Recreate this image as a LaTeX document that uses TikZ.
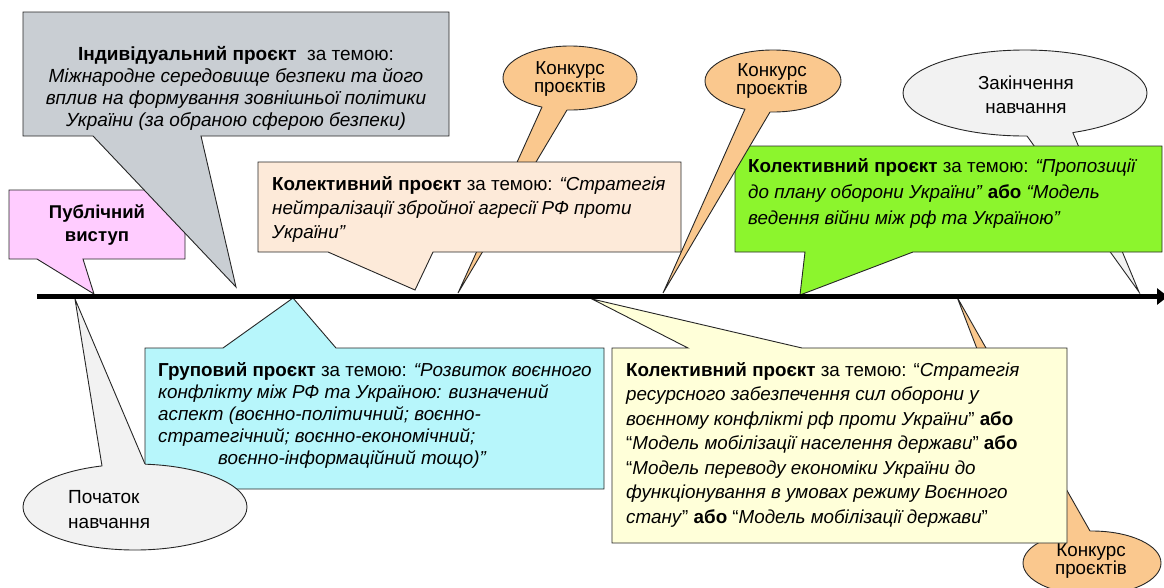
\documentclass[tikz,border=0pt]{standalone}
\usepackage{fontspec}
\setmainfont{Liberation Sans}
\usetikzlibrary{arrows.meta}
\definecolor{greyfill}{RGB}{201,206,211}
\definecolor{pinkfill}{RGB}{255,204,255}
\definecolor{peachfill}{RGB}{253,234,217}
\definecolor{orangefill}{RGB}{250,200,142}
\definecolor{lightfill}{RGB}{242,242,242}
\definecolor{greenfill}{RGB}{140,245,45}
\definecolor{cyanfill}{RGB}{183,246,251}
\definecolor{yellowfill}{RGB}{255,255,217}
\tikzset{%
  % Specifications for style of callouts and texts:
       callout/.style = {draw=black!85, line width=0.9pt, line join=miter},
       greybox/.style = {callout, fill=greyfill},
       pinkbox/.style = {callout, fill=pinkfill},
      peachbox/.style = {callout, fill=peachfill},
     orangebox/.style = {callout, fill=orangefill},
      lightbox/.style = {callout, fill=lightfill},
      greenbox/.style = {callout, fill=greenfill},
       cyanbox/.style = {callout, fill=cyanfill},
     yellowbox/.style = {callout, fill=yellowfill},
       textbox/.style = {inner sep=0pt, anchor=north west, align=left,
                         font=\fontsize{18.8}{24}\selectfont},
     centerbox/.style = {textbox, anchor=north, align=center},
      timeline/.style = {line width=5.5pt, -{Triangle[length=11pt,width=16pt]}},
}

\begin{document}
\begin{tikzpicture}[x=1pt, y=-1pt]
  \useasboundingbox (0,0) rectangle (1164,587);
  \clip (0,0) rectangle (1164,587);

  % Points of the time line
  \coordinate (tlStart) at (37,296.5);
  \coordinate (tlEnd)   at (1168,296.5);

  % Public speech
  \path[pinkbox] (9,190) -- (185,190) -- (185,259) -- (83,259) -- (94,294)
    -- (37,259) -- (9,259) -- cycle;
  \node (public) [centerbox, font=\bfseries\fontsize{18.5}{23}\selectfont]
    at (97,205) {Публічний\\виступ};

  % Individual project
  \path[greybox] (23,12) -- (449,12) -- (449,136) -- (201,136) -- (236,287)
    -- (93,136) -- (23,136) -- cycle;
  \node (indiv) [centerbox, font=\fontsize{19}{22}\selectfont] at (236,46)
    {\textbf{Індивідуальний проєкт}\ \ за темою:\\
     \textit{Міжнародне середовище безпеки та його}\\
     \textit{вплив на формування зовнішньої політики}\\
     \textit{України (за обраною сферою безпеки)}};

  % First contest
  \filldraw[orangebox] (570,78) ellipse [x radius=67, y radius=32];
  \fill[orangefill] (542,107) -- (458,293) -- (567,110) -- (570,78) -- cycle;
  \draw[callout] (542,107) -- (458,293) -- (567,110);
  \node (contestA) [centerbox, font=\fontsize{18.8}{17}\selectfont] at (570,61)
    {Конкурс\\проєктів};

  % Collective project: neutralisation strategy
  \path[peachbox] (258,162) -- (681,162) -- (681,252) -- (433,252) -- (415,290)
    -- (328,252) -- (258,252) -- cycle;
  \node (neutral) [textbox] at (272,176)
    {\textbf{Колективний проєкт} за темою: \textit{“Стратегія}\\
     \textit{нейтралізації збройної агресії РФ проти}\\
     \textit{України”}};

  % End of studies
  \filldraw[lightbox] (1025,93) ellipse [x radius=122, y radius=43];
  \fill[lightfill] (1027,136) -- (1139,292) -- (1073,133) -- (1025,93) -- cycle;
  \draw[callout] (1027,136) -- (1139,292) -- (1073,133);
  \node (finish) [centerbox] at (1026,76) {Закінчення\\навчання};

  % Collective project: defence plan
  \path[greenbox] (735,146) -- (1162,146) -- (1162,252) -- (913,252) -- (800,295)
    -- (805,252) -- (735,252) -- cycle;
  \node (defence) [textbox, font=\fontsize{18.8}{26}\selectfont] at (748,158)
    {\textbf{Колективний проєкт} за темою: \textit{“Пропозиції}\\
     \textit{до плану оборони України”} \textbf{або} \textit{“Модель}\\
     \textit{ведення війни між рф та Україною”}};

  % Second contest
  \filldraw[orangebox] (773,81) ellipse [x radius=68, y radius=31];
  \fill[orangefill] (745,109) -- (663,293) -- (770,112) -- (773,81) -- cycle;
  \draw[callout] (745,109) -- (663,293) -- (770,112);
  \node (contestB) [centerbox, font=\fontsize{18.8}{17}\selectfont] at (772,63)
    {Конкурс\\проєктів};

  % Third contest
  \filldraw[orangebox] (1092,563) ellipse [x radius=69, y radius=32];
  \fill[orangefill] (1050,538) -- (957,297) -- (1090,531) -- (1092,563) -- cycle;
  \draw[callout] (1050,538) -- (957,297) -- (1090,531);
  \node (contestC) [centerbox, font=\fontsize{18.8}{17}\selectfont] at (1091,543)
    {Конкурс\\проєктів};

  % Collective project: resource strategy
  \path[yellowbox] (612,348) -- (688,348) -- (592,299) -- (802,348) -- (1067,348)
    -- (1067,543) -- (612,543) -- cycle;
  \node (resource) [textbox, font=\fontsize{18.8}{24.5}\selectfont] at (626,362)
    {\textbf{Колективний проєкт} за темою: “\textit{Стратегія}\\
     \textit{ресурсного забезпечення сил оборони у}\\
     \textit{воєнному конфлікті рф проти України}” \textbf{або}\\
     “\textit{Модель мобілізації населення держави}” \textbf{або}\\
     “\textit{Модель переводу економіки України до}\\
     \textit{функціонування в умовах режиму Воєнного}\\
     \textit{стану}” \textbf{або} “\textit{Модель мобілізації держави}”};

  % Group project
  \path[cyanbox] (145,348) -- (223,348) -- (293,298) -- (336,348) -- (604,348)
    -- (604,489) -- (145,489) -- cycle;
  \node (group) [textbox, font=\fontsize{18.8}{22}\selectfont] at (158,362)
    {\textbf{Груповий проєкт} за темою: \textit{“Розвиток воєнного}\\
     \textit{конфлікту між РФ та Україною: визначений}\\
     \textit{аспект (воєнно-політичний; воєнно-}\\
     \textit{стратегічний; воєнно-економічний;}\\
     \hspace*{60pt}\textit{воєнно-інформаційний тощо)”}};

  % Start of studies
  \filldraw[lightbox] (135,507) ellipse [x radius=112, y radius=43];
  \fill[lightfill] (102,466) -- (75,299) -- (145,464) -- (135,507) -- cycle;
  \draw[callout] (102,466) -- (75,299) -- (145,464);
  \node (start) [textbox, font=\fontsize{19}{25}\selectfont] at (68,490)
    {Початок\\навчання};

  % Time line
  \draw[timeline] (tlStart) -- (tlEnd);
\end{tikzpicture}
\end{document}
